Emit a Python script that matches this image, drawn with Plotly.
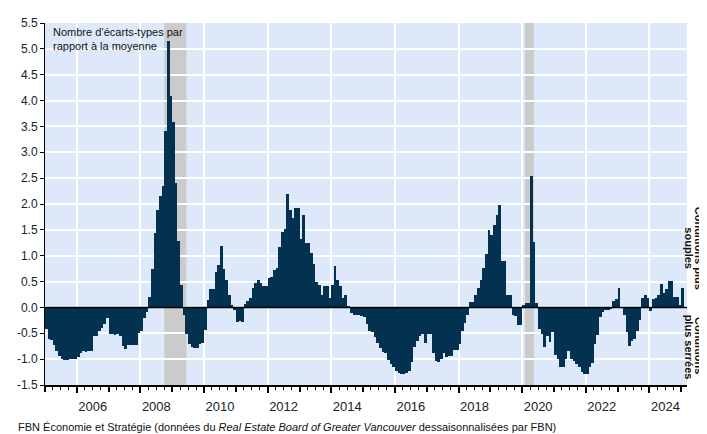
import pandas as pd
import plotly.graph_objects as go

# Monthly values, Jan 2005 onward (number of standard deviations from the mean)
start_month = "2005-01-01"
values = [
    -0.42, -0.62, -0.63, -0.72, -0.84, -0.93, -1.00, -1.01, -1.01, -1.00, -1.00, -0.99,  # 2005
    -0.96, -0.88, -0.85, -0.86, -0.84, -0.84, -0.56, -0.55, -0.46, -0.40, -0.33, -0.21,  # 2006
    -0.52, -0.52, -0.53, -0.52, -0.55, -0.74, -0.80, -0.72, -0.72, -0.72, -0.72, -0.49,  # 2007
    -0.46, -0.20, -0.08, 0.21, 0.75, 1.43, 1.89, 2.15, 2.35, 3.42, 5.15, 4.09,           # 2008
    3.59, 2.41, 1.28, 0.43, -0.14, -0.52, -0.70, -0.77, -0.79, -0.78, -0.70, -0.69,      # 2009
    -0.44, 0.15, 0.35, 0.36, 0.68, 0.82, 1.18, 0.75, 0.54, 0.24, 0.04, -0.04,            # 2010
    -0.28, -0.27, -0.28, 0.06, 0.13, 0.18, 0.37, 0.48, 0.53, 0.48, 0.42, 0.42,           # 2011
    0.56, 0.59, 0.72, 0.76, 1.16, 1.46, 1.52, 2.19, 1.88, 1.73, 1.93, 1.93,              # 2012
    1.33, 1.79, 1.25, 1.25, 1.06, 0.84, 0.49, 0.44, 0.24, 0.42, 0.42, 0.18,              # 2013
    0.44, 0.81, 0.54, 0.42, 0.18, 0.24, 0.02, -0.10, -0.15, -0.14, -0.15, -0.16,         # 2014
    -0.19, -0.33, -0.46, -0.47, -0.58, -0.68, -0.78, -0.86, -0.89, -1.01, -1.10, -1.16,  # 2015
    -1.22, -1.27, -1.29, -1.29, -1.27, -1.22, -1.06, -0.77, -0.65, -0.55, -0.52, -0.68,  # 2016
    -0.52, -0.52, -0.89, -1.03, -1.06, -0.99, -0.89, -0.96, -0.93, -0.93, -0.82, -0.82,  # 2017
    -0.71, -0.46, -0.30, -0.15, 0.10, 0.11, 0.24, 0.37, 0.54, 0.76, 1.03, 1.49,          # 2018
    1.41, 1.60, 1.79, 1.98, 0.89, 0.89, 0.24, 0.24, -0.14, -0.16, -0.34, -0.34,          # 2019
    0.04, 0.08, 0.08, 2.55, 1.27, 0.08, -0.42, -0.52, -0.76, -0.56, -0.66, -0.47,        # 2020
    -0.92, -1.00, -1.15, -1.15, -0.99, -0.84, -0.99, -1.03, -1.10, -1.16, -1.24, -1.28,  # 2021
    -1.28, -1.16, -1.08, -0.71, -0.53, -0.19, -0.08, -0.05, -0.04, -0.03, 0.13, 0.16,    # 2022
    0.38, -0.01, -0.15, -0.47, -0.74, -0.65, -0.61, -0.46, -0.25, 0.19, 0.25, 0.18,      # 2023
    -0.06, 0.16, 0.18, 0.24, 0.46, 0.27, 0.35, 0.51, 0.51, 0.20, 0.20, 0.04,             # 2024
    0.38,                                                                                 # 2025
]

# Recession periods (shaded)
recession_starts = ["2008-10-01", "2020-02-01"]
recession_ends = ["2009-06-12", "2020-05-15"]

# Axis ticks / labels
grid_years = list(range(2006, 2025, 2))
label_years = list(range(2006, 2025, 2))
y_ticks = [-1.5, -1.0, -0.5, 0.0, 0.5, 1.0, 1.5, 2.0, 2.5, 3.0, 3.5, 4.0, 4.5, 5.0, 5.5]
y_tick_labels = ["-1.5", "-1.0", "-0.5", "0.0", "0.5", "1.0", "1.5", "2.0", "2.5",
                 "3.0", "3.5", "4.0", "4.5", "5.0", "5.5"]

x_range = ["2005-01-01", "2025-03-07"]

months = pd.date_range(start_month, periods=len(values), freq="MS")
next_months = months + pd.offsets.MonthBegin(1)
widths = [(b - a).total_seconds() * 1000 for a, b in zip(months, next_months)]

FONT = "Liberation Sans, Arial, sans-serif"
BAR = "#023250"

fig = go.Figure()
fig.add_trace(go.Bar(
    x=months, y=values, width=widths, offset=0,
    marker=dict(color=BAR, line=dict(width=0)),
    showlegend=False, hoverinfo="x+y",
))
# invisible helper trace so the label axis is drawn
fig.add_trace(go.Scatter(
    x=[months[0]], y=[0], xaxis="x2", mode="markers",
    marker=dict(opacity=0), showlegend=False, hoverinfo="skip",
))

for x0, x1 in zip(recession_starts, recession_ends):
    fig.add_shape(type="rect", xref="x", yref="paper", x0=x0, x1=x1, y0=0, y1=1,
                  fillcolor="#cbcbcb", line=dict(width=0), layer="between")

# zero line drawn above the bars
fig.add_shape(type="line", xref="paper", yref="y", x0=0, x1=1, y0=0, y1=0,
              line=dict(color="black", width=1.5), layer="above")

side_font = dict(family=FONT, size=11, color="#111111")

fig.update_layout(
    width=699, height=426,
    margin=dict(l=37, r=20, t=8, b=49),
    paper_bgcolor="white",
    plot_bgcolor="#dde9fb",
    bargap=0,
    font=dict(family=FONT, size=12, color="#222222"),
    xaxis=dict(
        type="date", range=x_range,
        tickmode="array",
        tickvals=[f"{y}-01-01" for y in grid_years],
        showticklabels=False,
        showgrid=True, gridcolor="white", gridwidth=1.5,
        ticks="outside", ticklen=6, tickwidth=1.5, tickcolor="black",
        showline=True, linecolor="black", linewidth=1.5,
        minor=dict(dtick="M3", tick0="2005-01-01", ticks="outside", ticklen=3,
                   tickwidth=1, tickcolor="black", showgrid=False),
        zeroline=False, fixedrange=True,
    ),
    xaxis2=dict(
        type="date", overlaying="x", matches="x", anchor="y", side="bottom",
        tickmode="array",
        tickvals=[f"{y}-07-02" for y in label_years],
        ticktext=[str(y) for y in label_years],
        showgrid=False, showline=False, zeroline=False,
        ticks="outside", ticklen=9, tickcolor="rgba(0,0,0,0)",
        tickfont=dict(family=FONT, size=13, color="#222222"),
        minor=dict(dtick="M24", tick0="2005-01-01", ticks="outside", ticklen=6,
                   tickwidth=1.5, tickcolor="black", showgrid=False),
    ),
    yaxis=dict(
        range=[-1.5, 5.5],
        tickmode="array", tickvals=y_ticks, ticktext=y_tick_labels,
        showgrid=True, gridcolor="white", gridwidth=1.5,
        ticks="outside", ticklen=4, tickcolor="black", tickwidth=1,
        showline=True, linecolor="black", linewidth=1,
        zeroline=False,
        tickfont=dict(family=FONT, size=12, color="#222222"),
    ),
    annotations=[
        dict(text="Nombre d’écarts-types par<br>rapport à la moyenne",
             xref="paper", yref="paper", x=0.010, y=0.997,
             xanchor="left", yanchor="top", align="left", showarrow=False,
             font=dict(family=FONT, size=11, color="#111111")),
        dict(text="<b>Conditions plus</b>",
             xref="paper", yref="y", x=1.019, y=1.15,
             xanchor="center", yanchor="middle", textangle=90, showarrow=False,
             font=side_font),
        dict(text="<b>souples</b>",
             xref="paper", yref="y", x=1.0025, y=1.15,
             xanchor="center", yanchor="middle", textangle=90, showarrow=False,
             font=side_font),
        dict(text="<b>Conditions</b>",
             xref="paper", yref="y", x=1.019, y=-0.73,
             xanchor="center", yanchor="middle", textangle=90, showarrow=False,
             font=side_font),
        dict(text="<b>plus serrées</b>",
             xref="paper", yref="y", x=1.0025, y=-0.77,
             xanchor="center", yanchor="middle", textangle=90, showarrow=False,
             font=side_font),
        dict(text="FBN Économie et Stratégie (données du <i>Real Estate Board of Greater Vancouver</i> "
                  "dessaisonnalisées par FBN)",
             xref="paper", yref="paper", x=-0.045, y=-0.116,
             xanchor="left", yanchor="middle", showarrow=False,
             font=dict(family=FONT, size=11, color="#111111")),
    ],
)

fig.write_html("out.html")
